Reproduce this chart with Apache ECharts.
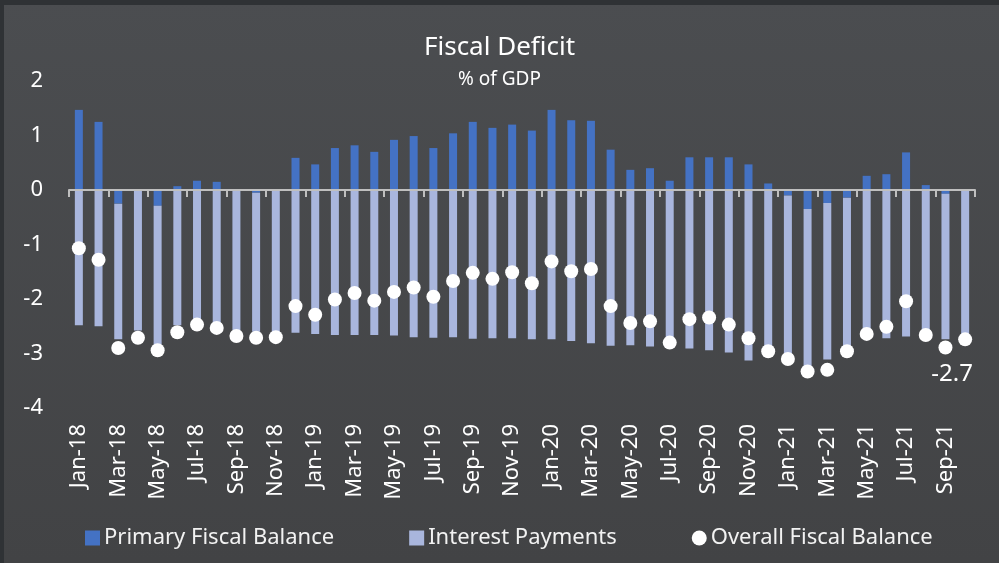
<!DOCTYPE html>
<html>
<head>
<meta charset="utf-8">
<title>Fiscal Deficit</title>
<script src="https://cdn.jsdelivr.net/npm/echarts@6/dist/echarts.min.js"></script>
<style>
    html, body { margin: 0; padding: 0; background: #47494b; }
    #chart { width: 999px; height: 563px; }
</style>
</head>
<body>
<div id="chart"></div>
<script>
// months, Jan-18 .. Oct-21
var months = ['Jan-18','Feb-18','Mar-18','Apr-18','May-18','Jun-18','Jul-18','Aug-18','Sep-18','Oct-18','Nov-18','Dec-18',
              'Jan-19','Feb-19','Mar-19','Apr-19','May-19','Jun-19','Jul-19','Aug-19','Sep-19','Oct-19','Nov-19','Dec-19',
              'Jan-20','Feb-20','Mar-20','Apr-20','May-20','Jun-20','Jul-20','Aug-20','Sep-20','Oct-20','Nov-20','Dec-20',
              'Jan-21','Feb-21','Mar-21','Apr-21','May-21','Jun-21','Jul-21','Aug-21','Sep-21','Oct-21'];

var primaryBalance = [1.47, 1.25, -0.25, -0.02, -0.29, 0.07, 0.17, 0.15, 0.00, -0.05, 0.00, 0.59,
                      0.47, 0.77, 0.82, 0.70, 0.92, 0.99, 0.77, 1.04, 1.25, 1.14, 1.20, 1.09,
                      1.47, 1.28, 1.27, 0.74, 0.37, 0.40, 0.17, 0.60, 0.60, 0.60, 0.47, 0.12,
                      -0.10, -0.35, -0.24, -0.14, 0.26, 0.29, 0.69, 0.09, -0.07, 0.00];

var interestPayments = [-2.48, -2.50, -2.49, -2.56, -2.55, -2.48, -2.38, -2.44, -2.58, -2.55, -2.65, -2.62,
                        -2.64, -2.66, -2.66, -2.66, -2.67, -2.70, -2.71, -2.70, -2.73, -2.72, -2.72, -2.74,
                        -2.74, -2.77, -2.81, -2.86, -2.85, -2.87, -2.90, -2.91, -2.94, -2.98, -3.13, -3.05,
                        -2.98, -2.92, -2.87, -2.77, -2.58, -2.72, -2.69, -2.66, -2.67, -2.70];

var overallBalance = [-1.07, -1.28, -2.90, -2.71, -2.94, -2.61, -2.47, -2.53, -2.68, -2.71, -2.70, -2.13,
                      -2.29, -2.01, -1.89, -2.03, -1.87, -1.79, -1.96, -1.67, -1.52, -1.63, -1.51, -1.71,
                      -1.31, -1.49, -1.45, -2.13, -2.44, -2.41, -2.80, -2.37, -2.34, -2.47, -2.72, -2.96,
                      -3.10, -3.33, -3.30, -2.96, -2.64, -2.51, -2.04, -2.66, -2.89, -2.74];

var yMin = -4, yMax = 2, yStep = 1;

var fontName = 'Noto Sans';
var lastIdx = overallBalance.length - 1;

var chart = echarts.init(document.getElementById('chart'));
var option = {
    backgroundColor: {
        type: 'linear', x: 0, y: 0, x2: 0, y2: 1,
        colorStops: [{ offset: 0, color: '#4b4d50' }, { offset: 1, color: '#424345' }]
    },
    graphic: [
        { type: 'rect', shape: { x: 0, y: 0, width: 999, height: 5 }, style: { fill: '#2f3235' }, silent: true },
        { type: 'rect', shape: { x: 0, y: 0, width: 4, height: 563 }, style: { fill: '#2f3235' }, silent: true }
    ],
    title: {
        text: 'Fiscal Deficit',
        subtext: '% of GDP',
        left: 'center',
        top: 30,
        itemGap: 9,
        textStyle: { color: '#ffffff', fontSize: 26, fontWeight: 'normal', fontFamily: fontName },
        subtextStyle: { color: '#ffffff', fontSize: 19, fontFamily: fontName }
    },
    legend: {
        top: 527,
        left: 85,
        padding: 0,
        itemWidth: 15,
        itemHeight: 15,
        itemGap: 75,
        textStyle: { color: '#f2f2f2', fontSize: 22, fontFamily: fontName, padding: [0, 0, 0, -1] },
        data: [
            { name: 'Primary Fiscal Balance', icon: 'rect' },
            { name: 'Interest Payments', icon: 'rect' },
            { name: 'Overall Fiscal Balance', icon: 'circle', itemStyle: { opacity: 1 } }
        ]
    },
    grid: { left: 69, right: 24, top: 81, bottom: 155 },
    xAxis: [
        {
            type: 'category',
            data: months,
            z: 3,
            axisLine: { onZero: true, lineStyle: { color: '#bfbfbf', width: 2 } },
            axisTick: { show: true, interval: 1, length: 7, lineStyle: { color: '#bfbfbf', width: 2 } },
            axisLabel: { show: false }
        },
        {
            type: 'category',
            data: months,
            position: 'bottom',
            axisLine: { show: false, onZero: false },
            axisTick: { show: false },
            axisLabel: {
                interval: 1,
                rotate: 90,
                margin: 16,
                color: '#ffffff',
                fontSize: 22,
                fontFamily: fontName
            }
        }
    ],
    yAxis: {
        type: 'value',
        min: yMin,
        max: yMax,
        interval: yStep,
        axisLine: { show: false },
        axisTick: { show: false },
        splitLine: { show: false },
        axisLabel: { color: '#ffffff', fontSize: 22, fontFamily: fontName, margin: 26 }
    },
    series: [
        {
            name: 'Primary Fiscal Balance',
            type: 'bar',
            stack: 'total',
            barWidth: 8,
            itemStyle: { color: '#4472c4' },
            data: primaryBalance
        },
        {
            name: 'Interest Payments',
            type: 'bar',
            stack: 'total',
            barWidth: 8,
            itemStyle: { color: '#a9b6dd' },
            data: interestPayments
        },
        {
            name: 'Overall Fiscal Balance',
            type: 'scatter',
            symbol: 'circle',
            symbolSize: 14,
            z: 5,
            itemStyle: { color: '#ffffff', opacity: 1 },
            label: {
                show: true,
                position: 'bottom',
                distance: 16,
                offset: [-13, 0],
                color: '#ffffff',
                fontSize: 24,
                fontFamily: fontName,
                formatter: function (p) {
                    return p.dataIndex === lastIdx ? p.value.toFixed(1) : '';
                }
            },
            data: overallBalance
        }
    ]
};
chart.setOption(option);
</script>
</body>
</html>
